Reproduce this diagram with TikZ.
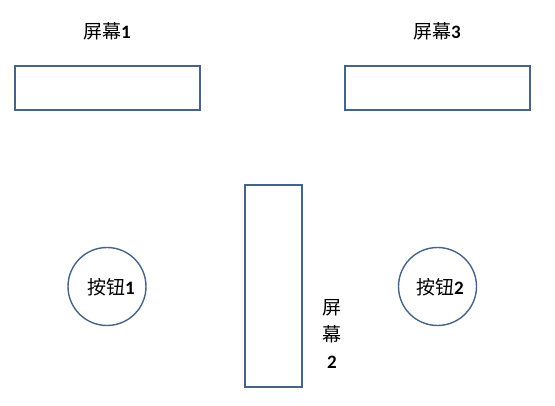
\documentclass[tikz,border=0pt]{standalone}
\usepackage{fontspec}
\newfontfamily\cjk{Noto Sans CJK SC}
\newfontfamily\dig{Carlito}
\definecolor{edge}{RGB}{70,100,135}
\tikzset{
  screen/.style={draw=edge,line width=1.4pt,fill=white},
  button/.style={draw=edge,line width=1.4pt,circle,minimum size=78pt,inner sep=0pt},
  lbl/.style={font=\fontsize{19}{27}\selectfont\cjk,text=black,inner sep=0pt},
}
\newcommand{\dg}[1]{{\dig\bfseries #1}}
\begin{document}
\begin{tikzpicture}[x=1pt,y=-1pt]
\useasboundingbox (0,0) rectangle (555,406);
\draw[screen] (15,66) rectangle (200,110);
\draw[screen] (345,66) rectangle (530,110);
\draw[screen] (245,185) rectangle (302,387);
\node[button] (b1) at (107,286.5) {};
\node[button] (b2) at (437.5,286.5) {};
\node[lbl] (t1) at (107,31) {屏幕\dg{1}};
\node[lbl] (t3) at (437,31) {屏幕\dg{3}};
\node[lbl] (tb1) at (111,287) {按钮\dg{1}};
\node[lbl] (tb2) at (440,287) {按钮\dg{2}};
\node[lbl,align=center] (t2) at (332,334) {屏\\幕\\\dg{2}};
\end{tikzpicture}
\end{document}
